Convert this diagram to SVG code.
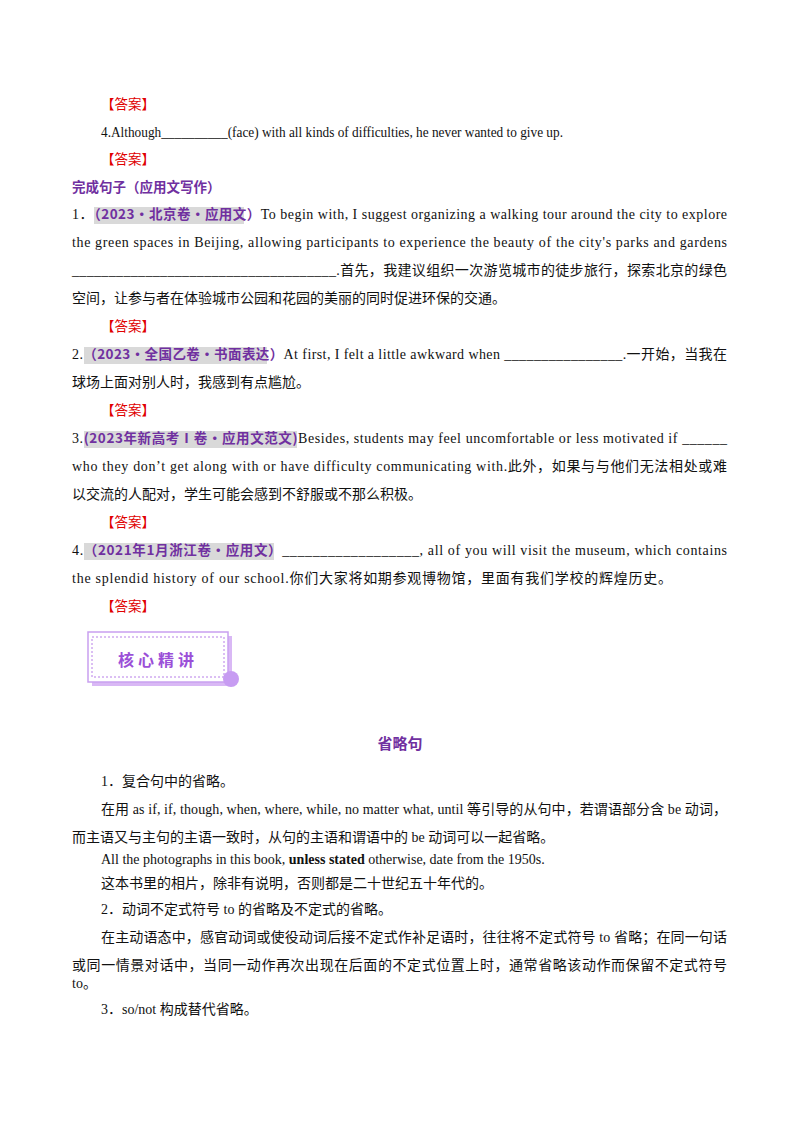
<svg xmlns="http://www.w3.org/2000/svg" width="800" height="1132" viewBox="0 0 800 1132">
<style>
text{font-family:"Liberation Serif","Noto Sans CJK SC",serif;font-size:14px;fill:#111}
.r{fill:#e00000;font-size:13.5px}
.p{fill:#7030a0;font-weight:bold;font-family:"Noto Sans CJK SC",sans-serif;font-size:13.5px}
.hl{fill:#d9d9d9}
</style>
<rect width="800" height="1132" fill="#fff"/>
<text class="r" x="101" y="109">【答案】</text>
<text x="101" y="137" textLength="462" lengthAdjust="spacingAndGlyphs">4.Although__________(face) with all kinds of difficulties, he never wanted to give up.</text>
<text class="r" x="101" y="164">【答案】</text>
<text class="p" x="72" y="192">完成句子（应用文写作）</text>
<rect class="hl" x="94" y="207" width="150" height="17"/>
<text x="72" y="219" textLength="655" lengthAdjust="spacing">1．<tspan class="p">（2023·北京卷·应用文）</tspan>To begin with, I suggest organizing a walking tour around the city to explore</text>
<text x="72" y="247" textLength="655" lengthAdjust="spacing">the green spaces in Beijing, allowing participants to experience the beauty of the city's parks and gardens</text>
<text x="72" y="275" textLength="655" lengthAdjust="spacing">____________________________________.首先，我建议组织一次游览城市的徒步旅行，探索北京的绿色</text>
<text x="72" y="303">空间，让参与者在体验城市公园和花园的美丽的同时促进环保的交通。</text>
<text class="r" x="101" y="331">【答案】</text>
<rect class="hl" x="84" y="347" width="183" height="17"/>
<text x="72" y="359" textLength="655" lengthAdjust="spacing">2.<tspan class="p">（2023·全国乙卷·书面表达）</tspan>At first, I felt a little awkward when ________________.一开始，当我在</text>
<text x="72" y="387">球场上面对别人时，我感到有点尴尬。</text>
<text class="r" x="101" y="415">【答案】</text>
<rect class="hl" x="84" y="431" width="213" height="17"/>
<text x="72" y="443" textLength="655" lengthAdjust="spacing">3.<tspan class="p">(2023年新高考Ⅰ卷·应用文范文)</tspan>Besides, students may feel uncomfortable or less motivated if ______</text>
<text x="72" y="471" textLength="655" lengthAdjust="spacing">who they don’t get along with or have difficulty communicating with.此外，如果与与他们无法相处或难</text>
<text x="72" y="499">以交流的人配对，学生可能会感到不舒服或不那么积极。</text>
<text class="r" x="101" y="527">【答案】</text>
<rect class="hl" x="84" y="543" width="190" height="17"/>
<text x="72" y="555" textLength="655" lengthAdjust="spacing">4.<tspan class="p">（2021年1月浙江卷·应用文）</tspan>__________________, all of you will visit the museum, which contains</text>
<text x="72" y="583" textLength="600" lengthAdjust="spacing">the splendid history of our school.你们大家将如期参观博物馆，里面有我们学校的辉煌历史。</text>
<text class="r" x="101" y="611">【答案】</text>
<g id="badge">
<rect x="92" y="636" width="140" height="50" fill="#d9b8f5"/>
<rect x="88" y="632" width="140" height="50" fill="#fff" stroke="#c9a0f0" stroke-width="1.5"/>
<rect x="92" y="637" width="132" height="40" fill="none" stroke="#b77ee8" stroke-dasharray="2,2"/>
<circle cx="231" cy="679" r="8" fill="#c79cf2"/>
<text x="158" y="666" text-anchor="middle" style="font-family:'Noto Sans CJK SC',sans-serif;font-weight:bold;font-size:16px;fill:#9b4fd8;letter-spacing:4px">核心精讲</text>
</g>
<text class="p" x="400" y="749" text-anchor="middle" style="font-size:15px">省略句</text>
<text x="101" y="786">1．复合句中的省略。</text>
<text x="101" y="814" textLength="626" lengthAdjust="spacing">在用 as if, if, though, when, where, while, no matter what, until 等引导的从句中，若谓语部分含 be 动词，</text>
<text x="72" y="842">而主语又与主句的主语一致时，从句的主语和谓语中的 be 动词可以一起省略。</text>
<text x="101" y="864">All the photographs in this book,  <tspan font-weight="bold">unless stated</tspan>  otherwise, date from the 1950s.</text>
<text x="101" y="888">这本书里的相片，除非有说明，否则都是二十世纪五十年代的。</text>
<text x="101" y="914">2．动词不定式符号 to 的省略及不定式的省略。</text>
<text x="101" y="942" textLength="626" lengthAdjust="spacing">在主动语态中，感官动词或使役动词后接不定式作补足语时，往往将不定式符号 to 省略；在同一句话</text>
<text x="72" y="970" textLength="655" lengthAdjust="spacing">或同一情景对话中，当同一动作再次出现在后面的不定式位置上时，通常省略该动作而保留不定式符号</text>
<text x="72" y="988">to。</text>
<text x="101" y="1014">3．so/not 构成替代省略。</text>
</svg>
